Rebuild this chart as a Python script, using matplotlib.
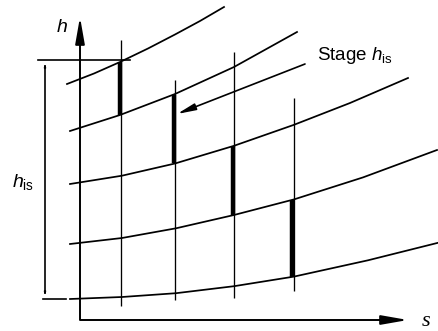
import matplotlib.pyplot as plt
from matplotlib.patches import FancyArrowPatch

plt.rcParams['mathtext.fontset'] = 'custom'
plt.rcParams['mathtext.rm'] = 'Liberation Sans'
plt.rcParams['mathtext.it'] = 'Liberation Sans:italic'

# isobars in the h-s plane (drawing units, y grows downward)
isobar_x = [
    [67, 94, 120, 148, 175, 200, 224],
    [70, 120, 175, 234, 297],
    [70, 122, 175, 234, 294, 350, 408],
    [70, 122, 176, 234, 294, 363, 437],
    [70, 122, 176, 234, 294, 368, 438],
]
isobar_y = [
    [84, 73.5, 62, 48.5, 34.5, 21, 7],
    [131, 115, 94, 67, 32],
    [184, 175.7, 163.5, 145.8, 124.8, 103, 78],
    [244, 238, 228.3, 215, 199.4, 177.4, 150],
    [299, 297, 293.2, 286.2, 276.6, 260.3, 242.8],
]

# lines of constant entropy
s_x = [121, 175, 234, 294]
s_top = [40, 80, 52, 98]
s_bottom = [306, 300, 298, 291]

# isentropic stage drops
stage_x = [120, 174, 233, 292]
stage_top = [62, 95, 146, 200]
stage_bottom = [115, 163, 215, 277]

fig = plt.figure(figsize=(4.38, 3.31), dpi=100)
ax = fig.add_axes([0, 0, 1, 1])
ax.set_xlim(0, 438)
ax.set_ylim(331, 0)
ax.axis('off')

for xs, ys in zip(isobar_x, isobar_y):
    ax.plot(xs, ys, color='black', lw=1.25, solid_joinstyle='round')

ax.vlines(s_x, s_top, s_bottom, color='black', lw=0.95)
ax.vlines(stage_x, stage_top, stage_bottom, color='black', lw=3.2)

# axes with arrows
head = '-|>,head_length=1.6,head_width=0.28'
ax.plot([80, 80, 395], [40, 320, 320], color='black', lw=1.4)
ax.annotate('', xy=(80, 17), xytext=(80, 45),
            arrowprops=dict(arrowstyle=head, color='black', lw=1.4,
                            shrinkA=0, shrinkB=0))
ax.annotate('', xy=(408, 320), xytext=(380, 320),
            arrowprops=dict(arrowstyle=head, color='black', lw=1.4,
                            shrinkA=0, shrinkB=0))

# total isentropic enthalpy drop
ax.plot([38, 130], [60, 60], color='black', lw=1.2)
ax.plot([43, 66], [299, 299], color='black', lw=1.2)
ax.add_patch(FancyArrowPatch((45, 61), (45, 298),
                             arrowstyle='<|-|>,head_length=1.6,head_width=0.28',
                             color='black', lw=1.2, shrinkA=0, shrinkB=0))

# leader from the stage label to the second stage
ax.annotate('', xy=(177, 114), xytext=(305, 64),
            arrowprops=dict(arrowstyle='-|>,head_length=1.1,head_width=0.2',
                            color='black', lw=1.2, shrinkA=0, shrinkB=0))

ax.text(62, 27, '$h$', fontsize=14, ha='center', va='center')
ax.text(23, 182, r'$h_{\rm is}$', fontsize=14, ha='center', va='center')
ax.text(317, 56, r'Stage $h_{\rm is}$', fontsize=13.5, ha='left', va='center',
        family='Liberation Sans')
ax.text(426, 321, 's', fontsize=16, ha='center', va='center',
        family='Liberation Serif', style='italic')

fig.savefig('out.png', dpi=100)
